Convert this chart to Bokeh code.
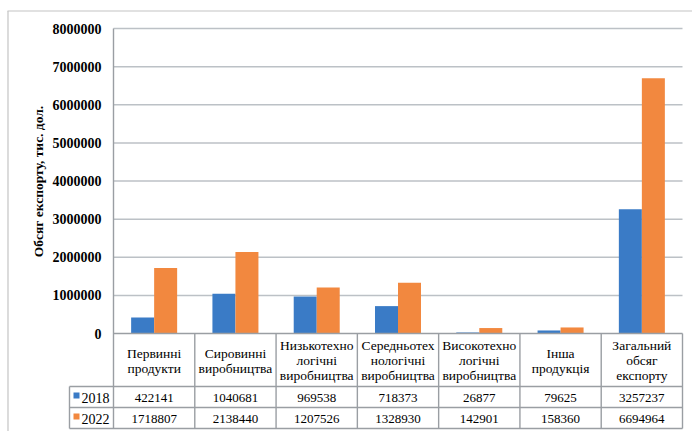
from math import pi
from bokeh.plotting import figure
from bokeh.models import Range1d
from bokeh.core.properties import value
from bokeh.embed import file_html
from bokeh.resources import INLINE

# ---- data ----
categories = [
    "Первинні\nпродукти",
    "Сировинні\nвиробництва",
    "Низькотехно\nлогічні\nвиробництва",
    "Середньотех\nнологічні\nвиробництва",
    "Високотехно\nлогічні\nвиробництва",
    "Інша\nпродукція",
    "Загальний\nобсяг\nекспорту",
]
series_names = ["2018", "2022"]
values_2018 = [422141, 1040681, 969538, 718373, 26877, 79625, 3257237]
values_2022 = [1718807, 2138440, 1207526, 1328930, 142901, 158360, 6694964]
y_ticks = [0, 1000000, 2000000, 3000000, 4000000, 5000000, 6000000, 7000000, 8000000]
y_title = "Обсяг експорту, тис. дол."
colors = ["#3a7bc6", "#f2883f"]

# ---- layout ----
W, H = 692, 431
PX = 0
sx = 569 / 7.0
x_start = -0.5 - (113 - PX) / sx
x_end = x_start + W / sx
uy = 8e6 / 305.0
y_end = (333 - PX) * uy
y_start = -(PX + H - 333) * uy


def X(px):
    return x_start + (px - PX) / sx


def Y(py):
    return y_end - (py - PX) * uy


serif = value("Liberation Serif")
n = len(categories)
idx = list(range(n))

p = figure(width=W, height=H, x_range=Range1d(x_start, x_end),
           y_range=Range1d(y_start, y_end), output_backend="svg",
           toolbar_location=None, min_border=0, outline_line_color=None,
           x_axis_type=None, y_axis_type=None, background_fill_color="white",
           border_fill_color="white")
p.grid.visible = False

# outer border (top & left)
p.segment(x0=[X(7), X(7.5)], y0=[Y(10.5), Y(10.5)], x1=[X(W), X(7.5)], y1=[Y(10.5), Y(H)],
          line_color="#c4c4c4", line_width=1.2)

# gridlines
gt = y_ticks[1:]
p.segment(x0=[-0.5] * len(gt), y0=gt, x1=[n - 0.5] * len(gt), y1=gt,
          line_color="#bcc1c6", line_width=1.5)

# bars
bw = 0.283
p.vbar(x=[i - bw / 2 for i in idx], width=bw, top=values_2018, bottom=0,
       fill_color=colors[0], line_color=None)
p.vbar(x=[i + bw / 2 for i in idx], width=bw, top=values_2022, bottom=0,
       fill_color=colors[1], line_color=None)

# table geometry
y_hdr = Y(386)
y_mid = Y(407)
y_bot = Y(428)
xl = X(69)
lc = "#9a9ea3"
p.segment(x0=[-0.5, xl, xl, xl], y0=[0, y_hdr, y_mid, y_bot],
          x1=[n - 0.5] * 4, y1=[0, y_hdr, y_mid, y_bot], line_color=lc, line_width=1.4)
vx = [i + 0.5 for i in idx]
p.segment(x0=vx, y0=[0] * n, x1=vx, y1=[y_bot] * n, line_color=lc, line_width=1.4)
p.segment(x0=[-0.5, xl], y0=[y_ticks[-1], y_hdr], x1=[-0.5, xl], y1=[y_bot, y_bot],
          line_color=lc, line_width=1.4)

# y tick labels
p.text(x=[X(101)] * len(y_ticks), y=y_ticks, text=[str(t) for t in y_ticks],
       text_align="right", text_baseline="middle", text_font=serif,
       text_font_style="bold", text_font_size="14px", text_color="#000000")

# y title
p.text(x=[X(38)], y=[Y(181)], text=[y_title], angle=pi / 2, text_align="center",
       text_baseline="middle", text_font=serif, text_font_style="bold",
       text_font_size="13.5px", text_color="#000000")

# category labels
p.text(x=idx, y=[Y(360)] * n, text=categories, text_align="center",
       text_baseline="middle", text_font=serif, text_font_size="13.5px",
       text_line_height=1.0, text_color="#000000")

# row values
yr1 = Y(397)
yr2 = Y(418)
p.text(x=idx, y=[yr1] * n, text=[str(v) for v in values_2018], text_align="center",
       text_baseline="middle", text_font=serif, text_font_size="13px", text_color="#000000")
p.text(x=idx, y=[yr2] * n, text=[str(v) for v in values_2022], text_align="center",
       text_baseline="middle", text_font=serif, text_font_size="13px", text_color="#000000")

# legend keys
p.scatter(x=[X(76)] * 2, y=[yr1 + 2 * uy, yr2 + 2 * uy], marker="square", size=6,
          fill_color=colors, line_color=None)
p.text(x=[X(81)] * 2, y=[yr1, yr2], text=series_names, text_align="left",
       text_baseline="middle", text_font=serif, text_font_size="14px", text_color="#000000")

open("out.html", "w").write(file_html(p, INLINE))
